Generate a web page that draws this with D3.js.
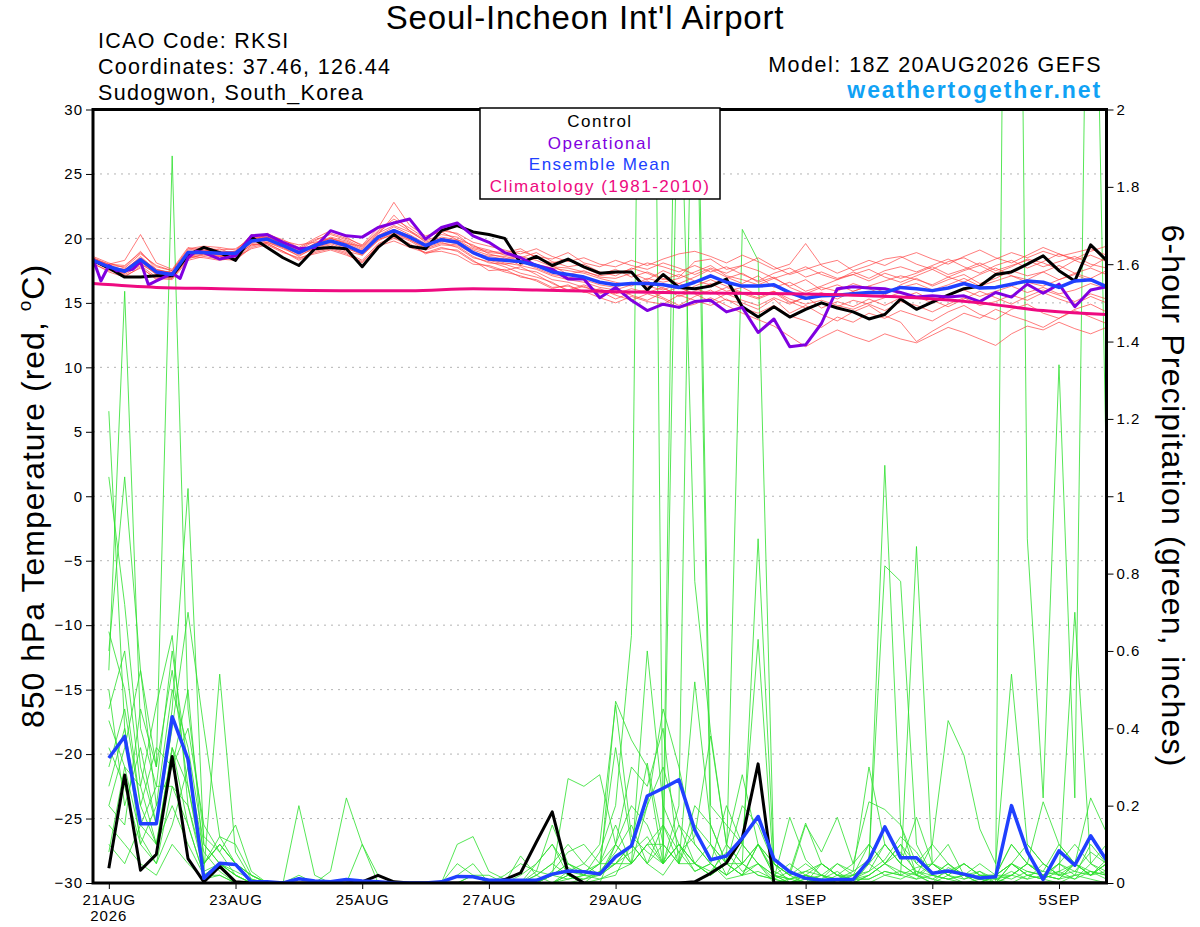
<!DOCTYPE html>
<html><head><meta charset="utf-8">
<script src="https://cdn.jsdelivr.net/npm/d3@7"></script>
<style>
body{margin:0;background:#fff}
svg{display:block}
text{font-family:"Liberation Sans",Arial,Helvetica,sans-serif}
</style>
</head><body>
<svg id="c" width="1200" height="927"></svg>
<script>
// ---------------- DATA ----------------
// forecast hours from 18Z 20AUG2026 (6-hourly)
const tempHours = d3.range(0, 385, 6);      // 65 points, h0..h384
const precipHours = d3.range(6, 385, 6);    // 64 points, h6..h384

const dateTickHours  = [6, 54, 102, 150, 198, 270, 318, 366];
const dateTickLabels = ["21AUG", "23AUG", "25AUG", "27AUG", "29AUG", "1SEP", "3SEP", "5SEP"];
const leftTicks  = [30, 25, 20, 15, 10, 5, 0, -5, -10, -15, -20, -25, -30];
const rightTicks = [2, 1.8, 1.6, 1.4, 1.2, 1, 0.8, 0.6, 0.4, 0.2, 0];
const rightTickLabels = ["2", "1.8", "1.6", "1.4", "1.2", "1", "0.8", "0.6", "0.4", "0.2", "0"];
const gridTemps = [25, 20, 15, 10, 5, 0, -5, -10, -15, -20, -25];

// Control 850 hPa temperature (black)
const controlTemp = [18.3,17.7,17.0,17.0,17.1,17.1,18.7,19.3,18.9,18.3,20.1,19.3,18.5,
 17.9,19.2,19.3,19.2,17.8,19.3,20.3,19.4,19.2,20.6,21.0,20.5,20.3,
 20.0,18.1,18.6,17.9,18.4,17.8,17.3,17.4,17.4,16.0,17.2,16.2,16.1,
 16.3,16.85,14.7,13.9,14.7,13.9,14.5,15.0,14.6,14.3,13.75,14.1,15.3,
 14.5,15.05,15.6,16.1,16.3,17.2,17.4,18.0,18.65,17.5,16.7,19.5,18.3];

// Ensemble mean temperature (blue)
const meanTemp = [18.3,17.8,17.45,18.35,17.4,17.2,18.9,18.9,18.85,18.85,19.8,19.95,19.45,
 18.9,19.45,19.8,19.45,18.9,20.1,20.6,20.1,19.45,19.9,19.7,18.9,18.4,
 18.3,18.2,17.9,17.4,17.2,17.0,16.6,16.4,16.5,16.5,16.4,16.2,16.6,
 17.1,16.6,16.3,16.3,16.4,15.8,15.35,15.55,15.6,15.7,15.8,15.8,16.2,
 16.1,15.95,16.15,16.5,16.15,16.2,16.45,16.7,16.6,16.2,16.7,16.8,16.25];

// Operational temperature (purple), 3-hourly early then 6-hourly
const opHours = [0,3,6,9,12,15,18,21,24,27,30,33,36,39,42].concat(d3.range(48, 385, 6));
const opTemp = [18.4,16.7,17.9,17.5,17.5,17.6,18.2,16.4,16.7,17.0,17.3,16.9,18.5,19.0,18.9,
 18.4,18.65,20.2,20.3,19.7,19.2,19.3,20.6,20.2,20.1,
 20.85,21.2,21.5,19.95,20.85,21.2,20.2,19.7,18.9,18.5,
 17.9,17.6,16.85,16.85,15.4,16.2,15.2,14.4,14.9,14.65,
 15.1,15.2,14.3,14.65,12.7,13.75,11.6,11.75,13.4,16.1,
 16.25,16.15,16.1,15.8,15.45,15.55,15.45,15.55,15.1,15.8,
 15.45,16.45,15.75,16.45,14.7,16.0,16.25];

// Climatology (1981-2010), daily
const climHours = d3.range(0, 385, 24);
const climTemp = [16.5,16.2,16.1,16.0,15.95,15.95,16.1,16.0,15.9,15.8,15.75,15.7,15.6,15.4,15.0,14.4,14.1];

// Ensemble member temperatures (red)
const r01 = [18.5,17.9,17.8,19.0,17.6,17.3,18.8,19.2,18.9,19.0,20.3,20.1,19.6, 19.1,19.8,20.4,20.0,19.5,20.8,22.8,21.0,20.2,20.5,19.9,19.5,18.8, 18.5,17.9,18.6,17.9,17.2,17.5,17.0,16.9,17.3,16.8,17.5,17.0,18.2, 18.4,17.6,17.9,18.5,17.8,17.2,17.6,18.0,18.3,17.5,17.9,18.4,18.6, 18.0,17.6,18.2,18.5,17.9,18.4,18.9,18.5,19.0,18.6,18.9,19.2,18.7];
const r02 = [18.2,17.6,17.2,17.9,17.0,16.9,18.5,18.7,18.6,18.6,19.5,19.6,19.0, 18.4,19.0,19.3,18.9,18.3,19.6,20.1,19.6,18.8,19.2,19.1,18.3,17.5, 17.6,17.0,16.8,16.2,16.3,15.9,15.4,15.0,15.5,15.1,14.9,15.6,15.2, 14.8,15.3,14.6,14.2,14.8,14.0,13.6,13.1,13.9,13.5,14.2,13.8,14.4, 14.0,13.6,14.3,14.8,14.1,13.7,14.5,14.9,14.2,13.8,14.5,14.9,14.3];
const r03 = [18.4,18.0,18.3,20.3,18.1,17.6,19.3,19.0,19.2,18.7,19.7,20.4,19.8, 19.5,19.7,20.0,19.6,19.4,20.5,21.3,20.6,19.9,20.8,20.3,19.3,19.0, 18.9,19.2,18.5,18.1,18.4,17.7,17.2,17.6,17.0,17.4,16.9,16.5,17.0, 17.6,17.0,16.5,17.1,16.2,16.6,15.9,16.3,16.8,17.2,16.7,17.3,16.9, 17.3,17.8,17.2,17.6,18.1,17.5,17.9,18.3,17.8,18.2,18.6,18.0,17.7];
const r04 = [18.1,17.4,17.0,17.8,16.8,17.0,18.6,18.5,18.3,18.5,19.2,19.5,18.9, 18.5,18.8,19.1,18.7,18.2,19.4,19.8,19.3,18.9,19.0,18.7,18.0,17.9, 17.5,17.8,17.2,16.5,16.0,16.4,15.9,15.3,15.8,16.0,15.4,14.8,15.5, 16.0,15.2,15.0,14.5,15.3,14.2,14.8,14.1,13.6,14.3,14.8,14.0,13.5, 12.0,12.8,13.5,14.2,13.8,14.5,14.0,13.6,13.1,13.8,14.4,13.9,13.4];
const r05 = [18.6,18.1,17.7,18.8,17.9,17.5,19.1,19.3,19.1,19.2,20.0,20.2,19.7, 19.2,19.9,20.3,19.9,19.3,20.4,21.0,20.5,19.8,20.3,20.1,19.4,19.1, 18.7,18.5,18.9,18.2,17.8,18.0,17.4,17.1,17.7,17.3,16.8,17.2,16.7, 16.4,16.9,17.3,16.6,17.0,16.2,15.7,16.2,15.9,16.5,16.1,15.6,16.4, 16.9,16.3,16.8,17.2,16.5,16.9,17.5,17.1,17.4,16.8,17.3,17.7,17.2];
const r06 = [18.0,17.5,17.3,18.1,17.2,16.9,18.4,18.8,18.6,18.4,19.4,19.7,19.2, 18.7,19.2,19.5,19.0,18.7,19.9,20.3,19.8,19.1,19.5,19.4,18.6,18.1, 18.0,17.6,17.4,16.8,16.6,16.2,16.0,15.7,16.1,15.8,16.2,15.5,15.9, 16.5,15.9,16.2,15.6,15.9,15.1,14.6,15.0,14.7,15.2,14.9,14.4,15.1, 14.8,14.3,14.9,15.4,14.8,15.1,15.6,15.2,15.8,15.3,14.9,15.5,15.0];
const r07 = [18.3,17.9,17.5,18.6,17.5,17.4,19.0,19.1,19.0,18.9,19.9,20.0,19.5, 18.9,19.6,20.0,19.7,19.1,20.2,20.9,20.3,19.6,20.0,19.8,19.1,18.7, 18.6,18.3,18.0,17.7,17.5,17.3,16.9,16.6,16.3,16.9,16.6,16.9,17.4, 17.9,17.1,16.8,16.4,16.9,16.3,16.8,16.0,16.4,15.9,16.3,16.7,17.1, 16.8,16.4,17.0,17.5,17.9,17.3,17.8,18.4,18.1,17.6,18.3,18.7,18.2];
const r08 = [18.2,17.7,17.4,18.2,17.3,17.1,18.7,18.9,18.7,18.7,19.6,19.8,19.3, 18.6,19.3,19.7,19.3,18.7,19.8,20.4,19.9,19.2,19.6,19.5,18.8,18.4, 18.1,17.9,17.6,17.1,16.8,16.6,16.2,16.0,16.4,16.7,16.1,15.7,16.3, 16.8,16.3,15.8,15.4,15.9,15.3,14.9,15.2,14.8,14.5,15.0,15.4,15.8, 15.5,15.0,15.6,16.0,15.5,15.9,16.3,15.8,16.2,15.7,16.0,16.5,16.1];
const r09 = [18.4,17.8,17.6,18.5,17.6,17.3,18.9,19.0,18.8,18.9,19.9,20.1,19.6, 19.0,19.5,20.0,19.6,19.0,20.2,20.7,20.2,19.5,19.8,19.6,18.9,18.6, 18.4,18.6,18.3,17.8,17.7,17.4,17.1,17.3,17.6,18.1,17.8,17.4,17.9, 17.4,17.8,17.2,16.7,17.3,17.7,17.0,17.4,16.9,17.2,17.6,17.0,16.6, 17.1,17.6,17.0,16.6,17.2,17.7,17.1,16.8,17.4,17.9,17.3,16.9,17.5];
const r10 = [18.3,17.6,17.1,17.7,16.9,16.8,18.3,18.6,18.4,18.3,19.3,19.6,19.0, 18.3,18.9,19.2,18.8,18.1,19.5,20.0,19.5,18.9,19.3,19.0,18.2,17.8, 17.4,17.1,16.7,16.1,16.4,15.8,16.1,15.6,15.2,15.7,15.3,14.6,14.9, 15.4,14.8,14.2,13.7,13.2,12.4,11.6,12.3,12.9,12.4,12.0,12.6,12.2, 11.9,12.5,13.1,12.7,12.2,11.7,12.6,13.2,12.9,13.5,13.0,12.6,13.1];
const r11 = [18.5,18.0,17.9,18.9,17.8,17.5,19.2,19.4,19.3,19.1,20.1,20.3,19.9, 19.3,20.0,20.6,20.1,19.4,20.6,21.5,20.8,20.0,20.6,20.4,19.7,19.4, 19.1,18.8,19.2,18.6,18.2,18.5,18.0,17.8,18.3,17.9,18.4,18.8,19.0, 18.6,18.1,18.7,18.2,17.6,18.0,19.6,17.9,17.3,17.8,18.3,17.9,18.5, 18.9,18.4,18.0,18.6,19.1,18.5,18.1,18.7,19.3,18.8,18.4,19.0,19.4];
const r12 = [18.2,17.7,17.6,18.0,17.3,17.2,18.6,18.8,18.7,18.6,19.5,19.7,19.3, 18.8,19.3,19.6,19.2,18.8,19.9,20.5,19.9,19.3,19.7,19.3,18.5,18.2, 17.8,17.3,17.0,16.6,15.9,16.3,15.7,16.1,15.6,15.2,15.8,16.2,15.7, 15.1,15.7,15.2,14.8,15.4,14.9,15.5,14.6,15.1,14.7,15.3,14.8,15.4, 15.8,15.2,14.7,15.3,15.9,15.4,14.9,15.5,16.0,15.6,15.1,15.7,15.3];
const r13 = [18.4,17.8,17.5,18.4,17.5,17.3,18.9,19.1,18.9,19.0,20.0,20.1,19.6, 19.0,19.6,20.1,19.8,19.2,20.3,21.8,20.6,19.7,20.1,19.9,19.2,18.9, 18.8,19.0,18.6,18.4,18.9,18.1,17.8,18.3,17.9,17.6,18.1,17.7,17.2, 17.7,17.3,17.9,17.5,16.9,17.3,17.8,17.2,16.8,17.4,16.9,17.5,17.8, 17.4,17.9,18.4,17.8,17.3,17.9,18.3,17.7,18.2,18.8,18.3,17.8,18.5];
const r14 = [18.3,17.7,17.3,18.3,17.2,17.1,18.7,18.9,18.9,18.8,19.7,19.9,19.4, 18.8,19.4,19.8,19.5,18.9,20.0,20.7,20.1,19.4,19.9,19.7,18.9,18.3, 18.0,18.2,17.7,17.2,17.0,16.8,16.4,16.2,16.6,16.3,16.0,16.5,16.1, 15.7,16.2,15.7,15.3,15.8,15.0,15.4,15.8,15.3,15.9,16.3,15.8,16.2, 16.5,16.0,16.4,16.9,16.3,16.7,17.1,16.6,16.3,16.8,17.2,16.7,16.4];
const tempMembers = [r01,r02,r03,r04,r05,r06,r07,r08,r09,r10,r11,r12,r13,r14];

// Control 6-hour precipitation (black)
const controlPrecip = [0.038,0.279,0.033,0.074,0.327,0.063,0.003,0.043, 0.003,0,0,0,0,0,0,0,
 0.003,0.02,0.003,0,0,0,0,0, 0,0.009,0.026,0.106,0.184,0.025,0,0,
 0,0,0,0,0,0.003,0.025,0.052, 0.116,0.308,0,0,0,0,0,0,
 0,0,0,0,0,0,0,0, 0,0,0,0,0,0,0,0];

// Ensemble mean 6-hour precipitation (blue)
const meanPrecip = [0.323,0.379,0.153,0.153,0.43,0.32,0.012,0.051, 0.048,0.003,0.003,0,0.011,0.005,0.003,0.009,
 0.005,0.003,0,0,0,0.003,0.017,0.016, 0.007,0.007,0.007,0.007,0.023,0.031,0.029,0.023,
 0.068,0.096,0.225,0.245,0.267,0.137,0.06,0.07, 0.116,0.172,0.062,0.029,0.012,0.007,0.009,0.009,
 0.059,0.145,0.065,0.065,0.025,0.031,0.023,0.013, 0.016,0.2,0.081,0.009,0.083,0.046,0.122,0.059];

// Ensemble member 6-hour precipitation (green)
const g01 = [0.30,0.45,0.20,0.10,0.35,0.15,0.02,0.05, 0.02,0,0,0,0,0,0,0, 0,0,0,0,0,0,0.02,0.05, 0,0,0.02,0.05,0.10,0.04,0.02,0.08, 0.20,0.64,4.40,0.05,0.10,0.03,0.05,0.02, 0.10,0.05,0,0.01,0,0.02,0,0.01, 0.03,0.10,0.05,0.02,0,0.04,0.02,0, 0,0.05,0.02,0.01,0.05,0.03,0.08,0.05];
const g02 = [0.55,1.53,0.40,0.25,0.60,0.30,0.05,0.10, 0.05,0.02,0,0,0,0,0,0, 0,0,0,0,0,0,0,0, 0,0.02,0.05,0.03,0.02,0.27,0.25,0.28, 0.10,0.05,0.10,0.10,2.90,2.40,0.10,0.05, 0.02,0.10,0.05,0,0.02,0,0,0, 0.02,0.05,0.08,0.03,0.01,0,0,0, 0.02,0.10,0.05,0.02,0.03,0.01,0.05,0.10];
const g03 = [0.20,0.35,0.55,0.30,1.88,0.45,0.12,0.08, 0.15,0.03,0,0,0.02,0,0,0, 0,0,0,0,0,0,0,0.02, 0,0,0,0.02,0.05,0.02,0,0.03, 0.05,0.08,0.12,0.05,2.25,0.78,0.39,0.10, 0.05,0.02,0.01,0.17,0.06,0.02,0.05,0.03, 0.06,0.82,0.78,0.10,0.02,0.05,0.02,0.01, 0,0.02,0.05,0.02,0.01,0.05,0.02,0.06];
const g04 = [1.22,0.40,0.10,0.20,0.30,0.50,0.05,0.12, 0.05,0.02,0,0,0.20,0.02,0,0, 0,0,0,0,0,0,0,0, 0,0,0,0,0.02,0.03,0.05,0.02, 0.47,0.37,0.30,0.05,0.20,2.60,0.20,0.15, 0.10,0.05,0.02,0,0.01,0,0.02,0, 0.05,1.08,0.15,0.02,0,0.02,0.05,0.02, 0,0.05,0.10,0.05,0.02,0.01,0.03,0.02];
const g05 = [1.05,0.72,0.30,0.15,0.45,1.02,0.10,0.05, 0.02,0,0,0,0,0,0.03,0.22, 0.10,0.02,0,0,0,0,0,0, 0,0,0,0,0.03,0.08,0.10,0.05, 0.35,0.10,0.31,0.10,0.05,0.52,0.15,0.05, 1.69,1.61,0.05,0.02,0,0.05,0.02,0.01, 0.01,0.03,0.02,0.87,0.05,0.02,0,0, 0.02,0.05,0.02,0.03,0.10,0.05,0.02,0.03];
const g06 = [0.42,0.30,0.25,0.46,0.64,0.20,0.03,0.54, 0.08,0.01,0,0,0,0,0,0, 0,0,0,0,0,0,0.10,0.12, 0.03,0.01,0,0,0,0.02,0.01,0.03, 0.08,0.15,0.05,0.02,0.08,0.12,0.38,0.10, 0.28,0.10,0.05,0.02,0.15,0.08,0.17,0.05, 0.10,0.05,0.02,0.04,0.05,0.02,0.01,0.03, 0,5.00,0.89,0.22,1.34,0.22,3.20,1.04];
const g07 = [0.50,0.20,0.35,0.15,0.40,0.70,0.40,0.12, 0.10,0.02,0,0,0,0,0,0, 0,0.02,0,0,0,0,0,0, 0,0,0,0.05,0.10,0.02,0,0, 0.10,0.20,0.15,0.05,0.10,0.05,0.02,0.10, 0.05,0.89,0.05,0.02,0.03,0.05,0.02,0.05, 0.21,0.19,0.15,0.05,0.10,0.42,0.33,0.14, 0.05,0.54,0.10,0.05,0.02,0.70,0.05,0.03];
const g08 = [0.20,0.15,0.45,0.30,0.55,0.25,0.05,0.10, 0.05,0,0,0,0,0,0,0, 0.10,0,0,0,0,0,0,0, 0,0,0.07,0.02,0.05,0.10,0.05,0.10, 0.46,0.12,0.08,0.05,0.15,0.10,0.05,0.20, 0.10,0.63,0.02,0.05,0.02,0.01,0,0.02, 0.05,0.10,0.05,0.17,0.05,0.10,0.02,0.05, 0.02,0.10,0.05,0.21,0.10,0.05,0.22,0.13];
const g09 = [0.10,0.05,0.15,0.10,0.20,0.10,0.02,0.05, 0,0,0,0,0,0,0,0, 0,0,0,0,0,0,0,0, 0,0,0,0,0.02,0.05,0.03,0.02, 0.05,0.10,0.20,0.30,0.15,0.05,0.10,0.02, 0.05,0.10,0.02,0,0.01,0.02,0,0.01, 0.02,0.05,0.10,0.02,0.05,0.03,0.02,0.01, 0,0.02,0.05,0.02,0.01,0.05,0.02,0.05];
const g10 = [0.65,0.50,0.20,0.35,0.30,0.40,0.15,0.08, 0.02,0,0,0,0,0,0,0, 0,0,0,0,0,0,0,0.02, 0.02,0,0,0.03,0.15,0.05,0.03,0.05, 0.10,0.30,0.25,0.40,0.05,0.15,0.10,0.05, 0.20,0.15,0.05,0.02,0.05,0.02,0.01,0, 0.02,0.05,0.10,0.05,0.02,0.05,0.01,0.02, 0.02,0.05,0.03,0.02,0.05,0.10,0.05,0.02];
const g11 = [0.35,0.25,0.10,0.05,0.15,0.30,0.08,0.03, 0,0,0,0,0,0,0,0, 0,0,0,0,0,0,0.05,0.02, 0,0,0,0,0,0.01,0.02,0.05, 0.15,0.05,0.60,0.20,0.10,0.05,0.02,0.05, 0.02,0.05,0.01,0.03,0.155,0.05,0.02,0.01, 0.01,0.03,0.02,0.01,0.05,0.02,0.05,0.02, 0.01,0.02,0.01,0.05,0.02,0.03,0.02,0.05];
const g12 = [0.15,0.10,0.05,0.02,0.10,0.05,0.01,0.02, 0,0,0,0,0,0,0,0, 0,0,0,0,0,0,0,0, 0,0,0,0,0,0.02,0,0.01, 0.03,0.05,0.10,0.15,0.08,0.03,0.05,0.01, 0.02,0.03,0.01,0,0,0.01,0.03,0, 0,0.02,0.01,0.03,0.02,0.01,0,0.01, 0.01,0,0.02,0.01,0,0.02,0.01,0];
const g13 = [0.60,1.05,0.55,0.20,0.50,0.35,0.10,0.05, 0.03,0.01,0,0,0,0,0,0, 0,0,0,0,0,0,0,0, 0,0,0,0.01,0.02,0.05,0.02,0.02, 0.10,0.05,0.20,0.45,0.30,0.10,0.05,0.02, 0.05,0.10,0.03,0.01,0.02,0.05,0.02,0.02, 0.03,0.06,0.12,0.08,0.02,0.01,0.02,0, 0.02,0.02,0.05,0.03,0.02,0.05,0.03,0.02];
const g14 = [0.25,0.40,0.15,0.25,0.25,0.20,0.05,0.10, 0.05,0.02,0,0,0,0,0,0, 0,0,0,0,0,0,0,0, 0,0,0,0,0.02,0.01,0.02,0.05, 0.05,0.10,0.05,0.15,0.05,0.20,0.15,0.05, 0.05,0.02,0.01,0,0.02,0.01,0.05,0.02, 0.10,0.05,0.03,0.02,0.10,0.05,0.02,0.01, 0.02,0.01,0.03,0.02,0.05,0.02,0.10,0.05];
const g15 = [0.45,0.60,0.25,0.10,0.35,0.25,0.03,0.05, 0.02,0,0,0,0,0,0,0, 0,0,0,0,0,0,0,0, 0,0,0,0.02,0,0.03,0.02,0.01, 0.02,0.10,0.05,0.10,0.05,0.05,0.03,0.08, 0.03,0.05,0.02,0.01,0.03,0.02,0.01,0.03, 0.30,0.10,0.05,0.02,0.01,0.03,0.05,0.02, 0.02,0.05,0.02,0.01,0.03,0.05,0.02,0.05];
const g16 = [0.08,0.30,0.12,0.05,0.25,0.15,0.02,0.02, 0,0,0,0,0,0,0,0, 0,0,0,0,0,0,0,0, 0,0,0,0,0,0,0.01,0.02, 0.05,0.05,0.10,0.05,0.10,0.05,0.02,0.05, 0.02,0.10,0.02,0.01,0.02,0,0.01,0.02, 0.05,0.02,0.03,0.01,0.02,0.01,0.02,0.03, 0.01,0.03,0.01,0.02,0.01,0.02,0.03,0.01];
const precipMembers = [g01,g02,g03,g04,g05,g06,g07,g08,g09,g10,g11,g12,g13,g14,g15,g16];

// ---------------- DRAW ----------------
const L = 93, R = 1106.5, T = 109.5, B = 883;
const svg = d3.select("#c");

const x  = d3.scaleLinear().domain([0, 384]).range([L, R]);
const yT = d3.scaleLinear().domain([-30, 30]).range([B, T]);
const yP = d3.scaleLinear().domain([0, 2]).range([B, T]);

svg.append("defs").append("clipPath").attr("id", "plot")
  .append("rect").attr("x", L).attr("y", T).attr("width", R - L).attr("height", B - T);

// grid
svg.append("g").selectAll("line").data(gridTemps).join("line")
  .attr("x1", L).attr("x2", R).attr("y1", d => yT(d)).attr("y2", d => yT(d))
  .attr("stroke", "#b4b4b4").attr("stroke-width", 1).attr("stroke-dasharray", "2,5");

const plot = svg.append("g").attr("clip-path", "url(#plot)");

const lineT = hrs => d3.line().x((d, i) => x(hrs[i])).y(d => yT(d));
const lineP = hrs => d3.line().x((d, i) => x(hrs[i])).y(d => yP(d));

// green members
plot.append("g").selectAll("path").data(precipMembers).join("path")
  .attr("d", lineP(precipHours)).attr("fill", "none")
  .attr("stroke", "#2ee02e").attr("stroke-width", 0.9).attr("stroke-opacity", 0.9);

// red members
plot.append("g").selectAll("path").data(tempMembers).join("path")
  .attr("d", lineT(tempHours)).attr("fill", "none")
  .attr("stroke", "#ff3c3c").attr("stroke-width", 0.9).attr("stroke-opacity", 0.75);

// precip control & mean
plot.append("path").datum(controlPrecip).attr("d", lineP(precipHours))
  .attr("fill", "none").attr("stroke", "#000").attr("stroke-width", 3).attr("stroke-linejoin", "round");
plot.append("path").datum(meanPrecip).attr("d", lineP(precipHours))
  .attr("fill", "none").attr("stroke", "#2040ff").attr("stroke-width", 3.5).attr("stroke-linejoin", "round");

// temperature control, operational, mean, climatology
plot.append("path").datum(controlTemp).attr("d", lineT(tempHours))
  .attr("fill", "none").attr("stroke", "#000").attr("stroke-width", 3).attr("stroke-linejoin", "round");
plot.append("path").datum(opTemp).attr("d", lineT(opHours))
  .attr("fill", "none").attr("stroke", "#8000e0").attr("stroke-width", 3).attr("stroke-linejoin", "round");
plot.append("path").datum(meanTemp).attr("d", lineT(tempHours))
  .attr("fill", "none").attr("stroke", "#2040ff").attr("stroke-width", 3.5).attr("stroke-linejoin", "round");
plot.append("path").datum(climTemp).attr("d", lineT(climHours).curve(d3.curveMonotoneX))
  .attr("fill", "none").attr("stroke", "#ee0a80").attr("stroke-width", 3).attr("stroke-linejoin", "round");

// axes
const axL = svg.append("g").attr("transform", `translate(${L},0)`)
  .call(d3.axisLeft(yT).tickValues(leftTicks).tickSize(7).tickPadding(3));
const axR = svg.append("g").attr("transform", `translate(${R},0)`)
  .call(d3.axisRight(yP).tickValues(rightTicks).tickSize(7).tickPadding(3)
    .tickFormat((d, i) => rightTickLabels[i]));
const axB = svg.append("g").attr("transform", `translate(0,${B})`)
  .call(d3.axisBottom(x).tickValues(dateTickHours).tickSize(6).tickPadding(3)
    .tickFormat((d, i) => dateTickLabels[i]));
[axL, axR, axB].forEach(a => {
  a.select(".domain").remove();
  a.selectAll("text").attr("font-size", "15px").attr("fill", "#000")
    .attr("letter-spacing", "1px")
    .style("font-family", '"Liberation Sans",Arial,sans-serif');
  a.selectAll("line").attr("stroke", "#000").attr("stroke-width", 1);
});
axB.selectAll("text").attr("dy", "0.85em").attr("letter-spacing", "0.9px");
svg.append("text").attr("x", x(dateTickHours[0])).attr("y", 921)
  .attr("text-anchor", "middle").attr("font-size", "15px").attr("letter-spacing", "0.9px").text("2026");

// frame
svg.append("rect").attr("x", L).attr("y", T).attr("width", R - L).attr("height", B - T)
  .attr("fill", "none").attr("stroke", "#000").attr("stroke-width", 3);

// legend
const lg = svg.append("g");
lg.append("rect").attr("x", 480).attr("y", 108).attr("width", 240).attr("height", 91)
  .attr("fill", "#fff").attr("stroke", "#000").attr("stroke-width", 1.5);
const legendItems = [["Control", "#000"], ["Operational", "#8000e0"], ["Ensemble Mean", "#2040ff"], ["Climatology (1981-2010)", "#ee0a80"]];
lg.selectAll("text").data(legendItems).join("text")
  .attr("x", 600).attr("y", (d, i) => 127 + i * 21.7).attr("text-anchor", "middle")
  .attr("font-size", "17px").attr("letter-spacing", "1.5px").attr("fill", d => d[1]).text(d => d[0]);

// titles
svg.append("text").attr("x", 585).attr("y", 29).attr("text-anchor", "middle")
  .attr("font-size", "33px").attr("letter-spacing", "0.8px").text("Seoul-Incheon Int'l Airport");
const info = ["ICAO Code: RKSI", "Coordinates: 37.46, 126.44", "Sudogwon, South_Korea"];
svg.append("g").selectAll("text").data(info).join("text")
  .attr("x", 98).attr("y", (d, i) => 48 + i * 26).attr("font-size", "21.5px")
  .attr("letter-spacing", "1.3px").text(d => d);
svg.append("text").attr("x", 1102).attr("y", 72).attr("text-anchor", "end")
  .attr("font-size", "21.5px").attr("letter-spacing", "1.5px").text("Model: 18Z 20AUG2026 GEFS");
svg.append("text").attr("x", 1102).attr("y", 98).attr("text-anchor", "end")
  .attr("font-size", "23px").attr("font-weight", "bold").attr("fill", "#10a2f5")
  .attr("letter-spacing", "1.9px").text("weathertogether.net");

// axis titles
const lt = svg.append("text").attr("transform", "translate(44,496) rotate(-90)")
  .attr("text-anchor", "middle").attr("font-size", "32px").attr("letter-spacing", "1px");
lt.append("tspan").text("850 hPa Temperature (red, ");
lt.append("tspan").attr("font-size", "19px").attr("dy", "-13").text("o");
lt.append("tspan").attr("dy", "13").text("C)");
svg.append("text").attr("transform", "translate(1162,496) rotate(90)")
  .attr("text-anchor", "middle").attr("font-size", "32px").attr("letter-spacing", "1.2px")
  .text("6-hour Precipitation (green, inches)");
</script>
</body></html>
